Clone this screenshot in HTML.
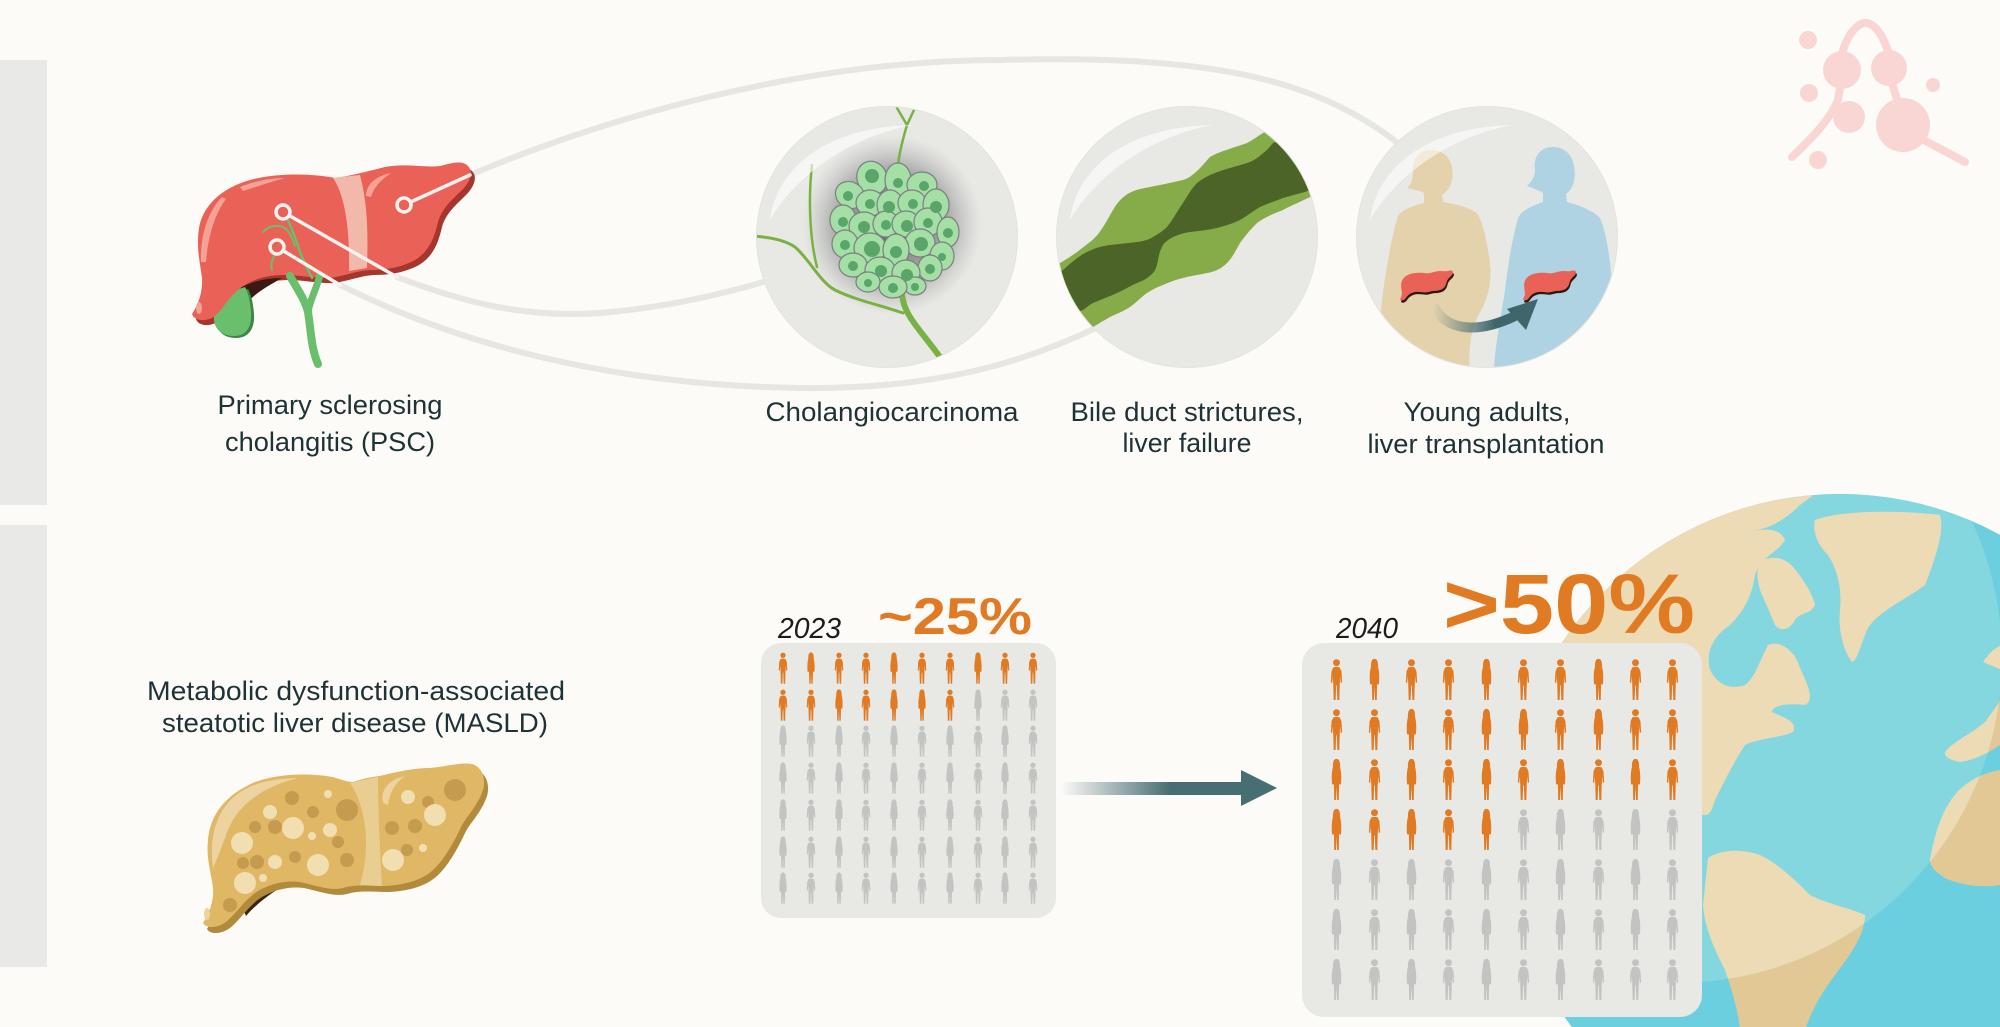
<!DOCTYPE html>
<html>
<head>
<meta charset="utf-8">
<style>
html,body{margin:0;padding:0;background:#fcfbf8;}
svg{display:block;}
.lbl{font-family:"Liberation Sans",Arial,sans-serif;font-size:27px;fill:#1f3236;}
</style>
</head>
<body>
<svg width="2000" height="1027" viewBox="0 0 2000 1027" xmlns="http://www.w3.org/2000/svg" xmlns:xlink="http://www.w3.org/1999/xlink">
<defs>
  <path id="lvp" d="M 192 314 C 198 305 203 292 202 278 C 200 262 196 248 199 228 C 203 205 222 188 250 180 C 280 172 315 174 335 178 C 350 176 365 172 385 167 C 405 163 425 168 440 166 C 452 163 462 160 468 166 C 474 172 470 182 462 190 C 452 200 442 208 438 222 C 434 240 428 252 415 260 C 400 268 385 270 370 270 C 355 271 345 276 330 278 C 318 279 300 275 285 275 C 265 275 250 280 238 290 C 226 300 222 312 212 318 C 202 322 194 320 192 314 Z"/>
  <path id="mlp" d="M 203 923 C 210 912 214 900 213 888 C 211 872 206 858 208 840 C 210 815 225 795 255 782 C 280 773 310 773 333 777 C 342 780 348 782 353 782 C 362 779 370 777 380 776 C 395 772 415 768 430 768 C 445 767 460 762 472 764 C 483 767 486 780 483 790 C 478 805 468 815 462 825 C 455 840 447 855 437 866 C 425 880 405 885 385 886 C 370 886 355 884 343 888 C 330 891 318 886 300 882 C 285 880 270 884 258 891 C 245 899 236 914 226 922 C 218 928 206 929 203 923 Z"/>
  <symbol id="m" viewBox="0 0 12 40">
    <circle cx="6" cy="4" r="3.2"/>
    <path d="M 3 8.5 Q 6 7.2 9 8.5 L 10.6 12 L 11.2 22 L 10 23 L 9.4 16.5 L 9 24 L 8.6 38.5 L 6.8 38.5 L 6.3 25 L 5.7 25 L 5.2 38.5 L 3.4 38.5 L 3 24 L 2.6 16.5 L 2 23 L 0.8 22 L 1.4 12 Z"/>
  </symbol>
  <symbol id="w" viewBox="0 0 12 40">
    <path d="M 6 0.5 C 3.2 0.5 2.6 4 2.7 8 C 1.6 12 1.3 18 1.9 24 L 3.6 24 L 3.9 38.5 L 5.5 38.5 L 6 26 L 6.5 38.5 L 8.1 38.5 L 8.4 24 L 10.1 24 C 10.7 18 10.4 12 9.3 8 C 9.4 4 8.8 0.5 6 0.5 Z"/>
  </symbol>
  <clipPath id="c1"><circle cx="887" cy="237" r="130"/></clipPath>
  <clipPath id="c2"><circle cx="1187" cy="237" r="130"/></clipPath>
  <clipPath id="c3"><circle cx="1487" cy="237" r="130"/></clipPath>
  <clipPath id="gclip"><circle cx="1840" cy="828" r="334"/></clipPath>
  <clipPath id="hclip"><circle cx="1677" cy="658" r="325"/></clipPath>
  <radialGradient id="shd" cx="892" cy="225" r="90" gradientUnits="userSpaceOnUse">
    <stop offset="0" stop-color="#3c3c3c" stop-opacity="0.85"/>
    <stop offset="0.65" stop-color="#6a6a6a" stop-opacity="0.45"/>
    <stop offset="1" stop-color="#9a9a9a" stop-opacity="0"/>
  </radialGradient>
  <linearGradient id="arr" x1="1061" y1="0" x2="1170" y2="0" gradientUnits="userSpaceOnUse">
    <stop offset="0" stop-color="#476e73" stop-opacity="0"/>
    <stop offset="1" stop-color="#476e73" stop-opacity="1"/>
  </linearGradient>
  <linearGradient id="arr2" x1="1433" y1="0" x2="1495" y2="0" gradientUnits="userSpaceOnUse">
    <stop offset="0" stop-color="#3f666b" stop-opacity="0"/>
    <stop offset="1" stop-color="#3f666b" stop-opacity="1"/>
  </linearGradient>
  <g id="cont">
    <path d="M 1560 570 C 1600 555 1650 535 1700 520 C 1720 515 1740 525 1750 532 C 1765 528 1780 528 1785 540 C 1778 552 1760 558 1755 575 C 1752 595 1745 610 1730 625 C 1715 635 1705 650 1710 670 C 1718 685 1730 690 1745 685 C 1755 678 1760 660 1768 645 C 1780 640 1795 650 1800 668 C 1808 685 1815 700 1805 705 C 1790 703 1772 705 1772 712 C 1785 718 1798 722 1793 732 C 1780 738 1760 738 1745 745 C 1735 760 1725 780 1715 800 C 1712 810 1710 815 1705 815 L 1560 815 Z"/>
    <path d="M 1700 523 C 1730 505 1770 497 1815 494 L 1800 505 C 1790 515 1780 522 1768 527 C 1750 532 1730 540 1712 540 Z"/>
    <path d="M 1760 562 C 1772 554 1786 558 1794 568 C 1802 578 1812 592 1815 605 C 1810 615 1800 612 1795 620 C 1790 630 1780 632 1775 625 C 1770 612 1764 600 1760 590 C 1757 580 1756 568 1760 562 Z"/>
    <path d="M 1815 520 C 1840 510 1900 510 1940 515 C 1945 530 1935 560 1925 585 C 1905 600 1880 610 1868 628 C 1860 645 1858 660 1852 662 C 1843 650 1838 630 1840 610 C 1842 590 1838 570 1828 555 C 1818 545 1812 532 1815 520 Z"/>
    <path d="M 1708 858 C 1720 850 1740 848 1760 855 C 1780 865 1795 880 1810 895 C 1830 905 1850 908 1865 915 C 1865 935 1850 955 1835 975 C 1820 995 1812 1010 1805 1030 L 1740 1030 C 1738 1010 1732 990 1725 970 C 1715 950 1705 930 1703 905 Z"/>
    <path d="M 1930 860 C 1935 830 1945 800 1965 785 C 1978 775 1990 772 2000 770 L 2000 885 C 1980 888 1960 885 1945 878 C 1935 872 1930 866 1930 860 Z"/>
    <path d="M 1945 752 C 1955 740 1970 735 1985 722 C 1992 712 1998 705 2000 700 L 2000 745 C 1990 752 1975 760 1960 762 C 1950 760 1944 757 1945 752 Z"/>
    <path d="M 1983 662 C 1990 652 1995 648 2002 645 L 2002 670 Z"/>
  </g>
</defs>

<!-- background -->
<rect x="0" y="0" width="2000" height="1027" fill="#fcfbf8"/>
<rect x="0" y="60" width="47" height="445" fill="#e9eae7"/>
<rect x="0" y="525" width="47" height="442" fill="#e9eae7"/>

<!-- connectors -->
<g fill="none" stroke="#e6e6e2" stroke-width="6" stroke-linecap="round">
  <path d="M 470 175 C 600 120, 800 60, 1000 60 C 1200 55, 1310 75, 1398 143"/>
  <path d="M 397 277 C 470 305, 530 318, 600 313 C 660 308, 720 295, 770 280"/>
  <path d="M 340 285 C 450 340, 600 385, 800 388 C 950 390, 1040 355, 1100 326"/>
</g>

<!-- PSC liver -->
<use href="#lvp" fill="#a5362e" transform="translate(4,5)"/>
<path d="M 228 296 C 242 284 262 278 282 278 C 268 286 255 293 246 304 Z" fill="#3a1a12"/>
<path d="M 216 318 C 215 330 223 338 236 338 C 249 338 255 328 254 314 C 253 302 251 294 248 289 L 232 294 Z" fill="#3e8645"/>
<path d="M 214 316 C 213 328 221 336 234 336 C 247 336 252 326 251 312 C 250 300 248 292 245 287 L 230 292 C 222 300 216 308 214 316 Z" fill="#6abf6d"/>
<use href="#lvp" fill="#ea6157"/>
<path d="M 333 178 C 345 195 350 230 349 271 L 367 268 C 368 235 368 205 360 175 C 350 176 341 177 333 178 Z" fill="#f2b8a9"/>
<path d="M 201 262 C 200 236 208 211 222 197 L 226 199 C 214 215 208 238 206 262 Z" fill="#f4a196"/>
<path d="M 240 187 C 255 181 270 178 285 178 C 270 182 256 187 243 191 Z" fill="#f4a196"/>
<path d="M 366 196 C 366 185 375 176 391 173 C 381 180 374 187 371 197 Z" fill="#f4a196"/>
<ellipse cx="199" cy="308" rx="3" ry="6" fill="#f4a196"/>
<g fill="none" stroke="#6abf6d" stroke-linecap="round">
  <path d="M 290 276 C 298 290 305 300 308 312 C 311 330 311 348 318 364" stroke-width="8"/>
  <path d="M 320 275 C 316 290 310 300 308 312" stroke-width="7"/>
  <path d="M 285 214 C 292 228 296 240 300 252 C 304 262 308 270 312 278" stroke-width="2.5"/>
  <path d="M 263 232 C 268 226 278 224 285 228 C 290 232 292 238 295 246" stroke-width="2"/>
  <path d="M 280 250 C 273 256 270 262 272 270" stroke-width="2"/>
</g>
<g stroke="#f2f2ef" fill="none" stroke-width="3.5" stroke-linecap="round">
  <path d="M 404 205 L 470 175"/>
  <path d="M 283 212 L 397 277"/>
  <path d="M 277 247 L 340 285"/>
</g>
<g fill="#ea6157" stroke="#f2f2ef" stroke-width="3.5">
  <circle cx="404" cy="205" r="7"/>
  <circle cx="283" cy="212" r="7"/>
  <circle cx="277" cy="247" r="7"/>
</g>

<!-- Circle 1: Cholangiocarcinoma -->
<circle cx="887" cy="237" r="131" fill="#e3e3df"/>
<circle cx="887" cy="237" r="130" fill="#e8e8e5"/>
<g clip-path="url(#c1)">
  <circle cx="892" cy="225" r="92" fill="url(#shd)"/>
  <g fill="none" stroke="#79b143" stroke-linecap="round">
    <path d="M 942 360 C 925 335 906 318 903 300 L 900 285" stroke-width="6"/>
    <path d="M 903 313 C 880 305 855 300 835 290 C 820 282 810 260 795 247 C 785 240 770 237 752 236" stroke-width="3"/>
    <path d="M 817 267 C 810 240 808 200 812 165" stroke-width="2.5"/>
    <path d="M 898 165 C 900 148 905 132 907 125 L 897 108 M 907 125 L 914 110" stroke-width="2.5"/>
  </g>
  <g fill="#a4dfa6" stroke="#7d7d82" stroke-width="1.2">
    <ellipse cx="872" cy="178" rx="15" ry="17" transform="rotate(-20 872 178)"/>
    <ellipse cx="898" cy="180" rx="13" ry="17"/>
    <ellipse cx="922" cy="185" rx="15" ry="13"/>
    <ellipse cx="850" cy="195" rx="15" ry="13" transform="rotate(30 850 195)"/>
    <ellipse cx="870" cy="203" rx="14" ry="13"/>
    <ellipse cx="890" cy="205" rx="13" ry="15"/>
    <ellipse cx="912" cy="203" rx="14" ry="13"/>
    <ellipse cx="936" cy="205" rx="13" ry="16"/>
    <ellipse cx="843" cy="220" rx="13" ry="15"/>
    <ellipse cx="864" cy="226" rx="15" ry="14"/>
    <ellipse cx="886" cy="224" rx="13" ry="13"/>
    <ellipse cx="906" cy="224" rx="14" ry="13"/>
    <ellipse cx="928" cy="222" rx="14" ry="14"/>
    <ellipse cx="948" cy="232" rx="11" ry="15"/>
    <ellipse cx="845" cy="244" rx="13" ry="14"/>
    <ellipse cx="920" cy="243" rx="15" ry="14"/>
    <ellipse cx="942" cy="256" rx="12" ry="14"/>
    <ellipse cx="870" cy="248" rx="16" ry="15"/>
    <ellipse cx="896" cy="250" rx="13" ry="16"/>
    <ellipse cx="853" cy="265" rx="14" ry="12"/>
    <ellipse cx="930" cy="268" rx="12" ry="13"/>
    <ellipse cx="880" cy="270" rx="15" ry="13"/>
    <ellipse cx="906" cy="273" rx="14" ry="13"/>
    <ellipse cx="868" cy="282" rx="12" ry="10"/>
    <ellipse cx="915" cy="286" rx="11" ry="9"/>
    <ellipse cx="893" cy="287" rx="14" ry="11"/>
  </g>
  <g fill="#5aa56a">
    <circle cx="872" cy="176" r="7"/><circle cx="898" cy="183" r="5"/><circle cx="924" cy="186" r="5"/>
    <circle cx="848" cy="196" r="5"/><circle cx="870" cy="204" r="5"/><circle cx="889" cy="207" r="6"/>
    <circle cx="913" cy="204" r="5"/><circle cx="936" cy="207" r="6"/><circle cx="843" cy="222" r="5"/>
    <circle cx="864" cy="227" r="6"/><circle cx="886" cy="225" r="5"/><circle cx="907" cy="226" r="6"/>
    <circle cx="928" cy="223" r="5"/><circle cx="948" cy="233" r="5"/><circle cx="845" cy="245" r="5"/>
    <circle cx="921" cy="244" r="7"/><circle cx="942" cy="257" r="4"/><circle cx="872" cy="249" r="8"/>
    <circle cx="896" cy="252" r="6"/><circle cx="853" cy="266" r="5"/><circle cx="930" cy="269" r="5"/>
    <circle cx="881" cy="271" r="6"/><circle cx="907" cy="275" r="6"/><circle cx="868" cy="283" r="4"/>
    <circle cx="915" cy="287" r="4"/><circle cx="893" cy="288" r="5"/>
  </g>
</g>
<path d="M 770 220 C 777 167 827 127 913 125 C 847 137 795 177 770 220 Z" fill="#ffffff" fill-opacity="0.6"/>

<!-- Circle 2: Bile duct -->
<circle cx="1187" cy="237" r="131" fill="#e3e3df"/>
<circle cx="1187" cy="237" r="130" fill="#e8e8e5"/>
<g clip-path="url(#c2)">
  <path d="M 1040 275 L 1060 263 C 1072 256 1080 250 1090 242 C 1100 235 1107 220 1113 210 C 1120 198 1128 192 1140 189 C 1155 186 1170 183 1183 180 C 1193 177 1200 168 1210 157 C 1218 152 1230 149 1247 143 C 1253 140 1258 136 1263 133 L 1340 95 L 1340 185 L 1308 198 C 1298 203 1290 206 1283 210 C 1270 215 1262 219 1257 223 C 1250 230 1245 236 1240 243 C 1235 252 1232 258 1227 263 C 1220 270 1213 272 1207 273 C 1198 275 1190 276 1183 278 C 1175 280 1170 282 1163 285 C 1155 288 1152 290 1147 293 C 1140 298 1136 303 1130 307 C 1122 312 1116 314 1110 317 C 1103 321 1098 324 1093 327 L 1040 350 Z" fill="#86ac49"/>
  <path d="M 1040 282 L 1063 270 C 1072 262 1080 255 1087 252 C 1095 248 1102 246 1110 245 C 1120 244 1128 243 1137 242 C 1145 241 1150 239 1153 237 C 1160 233 1164 230 1167 227 C 1174 218 1178 210 1183 203 C 1188 195 1192 188 1197 183 C 1202 179 1206 177 1210 175 C 1217 172 1223 170 1230 168 C 1237 166 1244 164 1250 162 C 1257 159 1262 154 1267 150 L 1273 143 L 1340 120 L 1340 178 L 1305 192 C 1297 194 1290 196 1283 198 C 1275 201 1267 204 1260 207 C 1253 211 1247 216 1240 220 C 1232 224 1224 226 1217 228 C 1208 230 1199 231 1190 232 C 1183 233 1178 235 1173 237 C 1168 240 1165 242 1163 245 C 1160 250 1159 255 1158 260 C 1157 265 1156 270 1153 273 C 1148 278 1143 281 1137 283 C 1130 286 1124 290 1117 293 C 1108 297 1100 300 1093 303 C 1089 305 1086 308 1083 310 L 1040 325 Z" fill="#4c6428"/>
</g>
<path d="M 1070 220 C 1077 167 1127 127 1213 125 C 1147 137 1095 177 1070 220 Z" fill="#ffffff" fill-opacity="0.6"/>

<!-- Circle 3: transplantation -->
<circle cx="1487" cy="237" r="131" fill="#e3e3df"/>
<circle cx="1487" cy="237" r="130" fill="#e8e8e5"/>
<g clip-path="url(#c3)">
  <path d="M 1430 150 C 1418 150 1412 160 1413 172 C 1413 180 1410 186 1407 188 C 1413 190 1420 190 1424 193 L 1424 203 C 1412 206 1402 210 1398 216 C 1392 235 1388 260 1384 285 C 1381 305 1379 330 1378 360 L 1378 380 L 1470 380 C 1468 350 1470 330 1480 312 C 1488 300 1492 280 1490 265 C 1488 245 1484 225 1477 213 C 1468 207 1455 204 1443 202 L 1442 195 C 1450 190 1454 180 1452 168 C 1450 156 1442 150 1430 150 Z" fill="#e3d2ab"/>
  <path d="M 1553 147 C 1540 147 1533 157 1535 170 C 1535 178 1530 183 1527 186 C 1533 188 1538 190 1543 193 L 1543 202 C 1532 206 1522 210 1518 218 C 1512 240 1508 265 1505 290 C 1502 310 1498 330 1495 355 L 1493 380 L 1620 380 C 1614 340 1613 310 1612 285 C 1610 255 1606 232 1600 218 C 1592 210 1578 205 1567 202 L 1566 194 C 1574 188 1576 178 1574 166 C 1572 154 1564 147 1553 147 Z" fill="#afd3e2"/>
  <g transform="translate(1400,270) scale(0.19) translate(-192,-160)">
    <use href="#lvp" fill="#2b1a14" transform="translate(5,12)"/>
    <use href="#lvp" fill="#ea6157"/>
  </g>
  <g transform="translate(1523,270) scale(0.19) translate(-192,-160)">
    <use href="#lvp" fill="#2b1a14" transform="translate(5,12)"/>
    <use href="#lvp" fill="#ea6157"/>
  </g>
  <path d="M 1433 305 C 1445 330 1475 335 1515 316" fill="none" stroke="url(#arr2)" stroke-width="10"/>
  <polygon points="1538,299 1507,309 1526,330" fill="#3f666b"/>
</g>
<path d="M 1370 220 C 1377 167 1427 127 1513 125 C 1447 137 1395 177 1370 220 Z" fill="#ffffff" fill-opacity="0.55"/>

<!-- molecule icon -->
<g fill="#f9d6d3" stroke="#f9d6d3">
  <path d="M 1840 64 C 1845 32 1860 22 1866 23 C 1878 24 1888 45 1890 62" fill="none" stroke-width="8" stroke-linecap="round"/>
  <path d="M 1792 157 C 1810 140 1830 120 1838 100 L 1842 75" fill="none" stroke-width="8" stroke-linecap="round"/>
  <path d="M 1891 80 L 1901 112" fill="none" stroke-width="8" stroke-linecap="round"/>
  <path d="M 1920 138 L 1965 162" fill="none" stroke-width="8" stroke-linecap="round"/>
  <g stroke="none">
    <circle cx="1808" cy="40" r="9"/>
    <circle cx="1842" cy="70" r="19"/>
    <circle cx="1889" cy="68" r="18"/>
    <circle cx="1809" cy="93" r="9"/>
    <circle cx="1849" cy="117" r="16"/>
    <circle cx="1903" cy="125" r="27"/>
    <circle cx="1933" cy="85" r="7"/>
    <circle cx="1818" cy="160" r="9"/>
  </g>
</g>

<!-- labels top -->
<text class="lbl" x="330" y="414" text-anchor="middle" textLength="225" lengthAdjust="spacingAndGlyphs">Primary sclerosing</text>
<text class="lbl" x="330" y="451" text-anchor="middle" textLength="210" lengthAdjust="spacingAndGlyphs">cholangitis (PSC)</text>
<text class="lbl" x="892" y="421" text-anchor="middle" textLength="253" lengthAdjust="spacingAndGlyphs">Cholangiocarcinoma</text>
<text class="lbl" x="1187" y="421" text-anchor="middle" textLength="233" lengthAdjust="spacingAndGlyphs">Bile duct strictures,</text>
<text class="lbl" x="1187" y="452" text-anchor="middle" textLength="129" lengthAdjust="spacingAndGlyphs">liver failure</text>
<text class="lbl" x="1487" y="421" text-anchor="middle" textLength="167" lengthAdjust="spacingAndGlyphs">Young adults,</text>
<text class="lbl" x="1486" y="453" text-anchor="middle" textLength="237" lengthAdjust="spacingAndGlyphs">liver transplantation</text>

<!-- MASLD -->
<text class="lbl" x="356" y="700" text-anchor="middle" textLength="418" lengthAdjust="spacingAndGlyphs">Metabolic dysfunction-associated</text>
<text class="lbl" x="355" y="732" text-anchor="middle" textLength="386" lengthAdjust="spacingAndGlyphs">steatotic liver disease (MASLD)</text>

<path d="M 240 902 C 252 890 268 884 288 883 C 274 891 258 902 246 916 Z" fill="#3a2412"/>
<use href="#mlp" fill="#b28a3c" transform="translate(4,6)"/>
<use href="#mlp" fill="#dfb765"/>
<path d="M 350 783 C 365 805 372 845 360 885 L 382 886 C 380 850 378 810 378 777 C 368 779 358 781 350 783 Z" fill="#ecd5a2" fill-opacity="0.75"/>
<path d="M 213 868 C 208 830 220 795 260 783 C 275 779 290 778 298 778 C 270 785 240 800 228 830 C 222 845 218 858 213 868 Z" fill="#ecd39f"/>
<path d="M 383 803 C 380 790 388 780 405 776 C 395 783 390 792 388 805 Z" fill="#ecd39f"/>
<ellipse cx="207" cy="914" rx="3" ry="6" fill="#ecd39f"/>
<g fill="#c49b4f">
  <circle cx="292" cy="798" r="7"/><circle cx="347" cy="810" r="11"/><circle cx="313" cy="812" r="6"/>
  <circle cx="255" cy="827" r="6"/><circle cx="275" cy="827" r="7"/><circle cx="338" cy="842" r="6"/>
  <circle cx="295" cy="857" r="6"/><circle cx="257" cy="862" r="7"/><circle cx="243" cy="863" r="6"/>
  <circle cx="347" cy="860" r="7"/><circle cx="230" cy="905" r="7"/><circle cx="455" cy="790" r="11"/>
  <circle cx="428" cy="802" r="6"/><circle cx="392" cy="828" r="7"/><circle cx="415" cy="826" r="7"/>
  <circle cx="407" cy="850" r="6"/>
</g>
<g fill="#f1dfb2">
  <circle cx="270" cy="812" r="7"/><circle cx="293" cy="828" r="11"/><circle cx="330" cy="830" r="7"/>
  <circle cx="312" cy="836" r="4"/><circle cx="242" cy="843" r="11"/><circle cx="275" cy="862" r="7"/>
  <circle cx="318" cy="865" r="11"/><circle cx="245" cy="883" r="11"/><circle cx="263" cy="878" r="4"/>
  <circle cx="328" cy="794" r="4"/><circle cx="408" cy="797" r="7"/><circle cx="435" cy="815" r="11"/>
  <circle cx="423" cy="848" r="4"/><circle cx="393" cy="860" r="11"/>
</g>

<!-- Globe -->
<g clip-path="url(#gclip)">
  <rect x="1490" y="480" width="520" height="560" fill="#6ccfdf"/>
  <use href="#cont" fill="#e2c895"/>
  <g clip-path="url(#hclip)">
    <rect x="1490" y="480" width="520" height="560" fill="#84d7df"/>
    <use href="#cont" fill="#eddbb5"/>
  </g>
</g>

<!-- 2023 box -->
<text x="778" y="638" font-family="Liberation Sans, Arial, sans-serif" font-style="italic" font-size="29" fill="#1c1c1c" textLength="63" lengthAdjust="spacingAndGlyphs">2023</text>
<text x="878" y="634" font-family="Liberation Sans, Arial, sans-serif" font-weight="bold" font-size="52" fill="#e07b24" textLength="154" lengthAdjust="spacingAndGlyphs">~25%</text>
<rect x="761" y="643" width="295" height="275" rx="20" fill="#e8e8e4"/>

<g fill="#e07b24">
  <use href="#m" x="778" y="652" width="10" height="33"/><use href="#w" x="806" y="652" width="10" height="33"/><use href="#m" x="834" y="652" width="10" height="33"/><use href="#m" x="861" y="652" width="10" height="33"/><use href="#w" x="889" y="652" width="10" height="33"/><use href="#m" x="917" y="652" width="10" height="33"/><use href="#m" x="945" y="652" width="10" height="33"/><use href="#w" x="973" y="652" width="10" height="33"/><use href="#m" x="1000" y="652" width="10" height="33"/><use href="#m" x="1028" y="652" width="10" height="33"/>
  <use href="#m" x="778" y="689" width="10" height="33"/><use href="#m" x="806" y="689" width="10" height="33"/><use href="#w" x="834" y="689" width="10" height="33"/><use href="#m" x="861" y="689" width="10" height="33"/><use href="#w" x="889" y="689" width="10" height="33"/><use href="#w" x="917" y="689" width="10" height="33"/><use href="#m" x="945" y="689" width="10" height="33"/>
</g>
<g fill="#c3c3c1">
  <use href="#w" x="973" y="689" width="10" height="33"/><use href="#m" x="1000" y="689" width="10" height="33"/><use href="#m" x="1028" y="689" width="10" height="33"/>
  <use href="#w" x="778" y="725" width="10" height="33"/><use href="#m" x="806" y="725" width="10" height="33"/><use href="#w" x="834" y="725" width="10" height="33"/><use href="#m" x="861" y="725" width="10" height="33"/><use href="#w" x="889" y="725" width="10" height="33"/><use href="#m" x="917" y="725" width="10" height="33"/><use href="#w" x="945" y="725" width="10" height="33"/><use href="#m" x="973" y="725" width="10" height="33"/><use href="#w" x="1000" y="725" width="10" height="33"/><use href="#m" x="1028" y="725" width="10" height="33"/>
  <use href="#w" x="778" y="762" width="10" height="33"/><use href="#m" x="806" y="762" width="10" height="33"/><use href="#w" x="834" y="762" width="10" height="33"/><use href="#m" x="861" y="762" width="10" height="33"/><use href="#w" x="889" y="762" width="10" height="33"/><use href="#m" x="917" y="762" width="10" height="33"/><use href="#w" x="945" y="762" width="10" height="33"/><use href="#m" x="973" y="762" width="10" height="33"/><use href="#w" x="1000" y="762" width="10" height="33"/><use href="#m" x="1028" y="762" width="10" height="33"/>
  <use href="#w" x="778" y="799" width="10" height="33"/><use href="#m" x="806" y="799" width="10" height="33"/><use href="#w" x="834" y="799" width="10" height="33"/><use href="#m" x="861" y="799" width="10" height="33"/><use href="#w" x="889" y="799" width="10" height="33"/><use href="#m" x="917" y="799" width="10" height="33"/><use href="#w" x="945" y="799" width="10" height="33"/><use href="#m" x="973" y="799" width="10" height="33"/><use href="#w" x="1000" y="799" width="10" height="33"/><use href="#m" x="1028" y="799" width="10" height="33"/>
  <use href="#w" x="778" y="836" width="10" height="33"/><use href="#m" x="806" y="836" width="10" height="33"/><use href="#w" x="834" y="836" width="10" height="33"/><use href="#m" x="861" y="836" width="10" height="33"/><use href="#w" x="889" y="836" width="10" height="33"/><use href="#m" x="917" y="836" width="10" height="33"/><use href="#w" x="945" y="836" width="10" height="33"/><use href="#m" x="973" y="836" width="10" height="33"/><use href="#w" x="1000" y="836" width="10" height="33"/><use href="#m" x="1028" y="836" width="10" height="33"/>
  <use href="#w" x="778" y="872" width="10" height="33"/><use href="#m" x="806" y="872" width="10" height="33"/><use href="#w" x="834" y="872" width="10" height="33"/><use href="#m" x="861" y="872" width="10" height="33"/><use href="#w" x="889" y="872" width="10" height="33"/><use href="#m" x="917" y="872" width="10" height="33"/><use href="#w" x="945" y="872" width="10" height="33"/><use href="#m" x="973" y="872" width="10" height="33"/><use href="#w" x="1000" y="872" width="10" height="33"/><use href="#m" x="1028" y="872" width="10" height="33"/>
</g>

<!-- arrow -->
<rect x="1061" y="782" width="182" height="13" fill="url(#arr)"/>
<polygon points="1241,770 1277,788 1241,806" fill="#476e73"/>

<!-- 2040 box -->
<rect x="1302" y="643" width="400" height="374" rx="22" fill="#e8e8e4"/>
<g fill="#e07b24">
  <use href="#m" x="1330" y="658" width="13" height="44"/><use href="#w" x="1368" y="658" width="13" height="44"/><use href="#m" x="1405" y="658" width="13" height="44"/><use href="#m" x="1442" y="658" width="13" height="44"/><use href="#w" x="1480" y="658" width="13" height="44"/><use href="#m" x="1517" y="658" width="13" height="44"/><use href="#m" x="1554" y="658" width="13" height="44"/><use href="#w" x="1592" y="658" width="13" height="44"/><use href="#m" x="1629" y="658" width="13" height="44"/><use href="#m" x="1666" y="658" width="13" height="44"/>
  <use href="#m" x="1330" y="708" width="13" height="44"/><use href="#m" x="1368" y="708" width="13" height="44"/><use href="#w" x="1405" y="708" width="13" height="44"/><use href="#m" x="1442" y="708" width="13" height="44"/><use href="#w" x="1480" y="708" width="13" height="44"/><use href="#w" x="1517" y="708" width="13" height="44"/><use href="#m" x="1554" y="708" width="13" height="44"/><use href="#w" x="1592" y="708" width="13" height="44"/><use href="#m" x="1629" y="708" width="13" height="44"/><use href="#m" x="1666" y="708" width="13" height="44"/>
  <use href="#w" x="1330" y="758" width="13" height="44"/><use href="#m" x="1368" y="758" width="13" height="44"/><use href="#w" x="1405" y="758" width="13" height="44"/><use href="#m" x="1442" y="758" width="13" height="44"/><use href="#w" x="1480" y="758" width="13" height="44"/><use href="#m" x="1517" y="758" width="13" height="44"/><use href="#w" x="1554" y="758" width="13" height="44"/><use href="#m" x="1592" y="758" width="13" height="44"/><use href="#w" x="1629" y="758" width="13" height="44"/><use href="#m" x="1666" y="758" width="13" height="44"/>
  <use href="#w" x="1330" y="808" width="13" height="44"/><use href="#m" x="1368" y="808" width="13" height="44"/><use href="#w" x="1405" y="808" width="13" height="44"/><use href="#m" x="1442" y="808" width="13" height="44"/><use href="#w" x="1480" y="808" width="13" height="44"/>
</g>
<g fill="#c3c3c1">
  <use href="#m" x="1517" y="808" width="13" height="44"/><use href="#w" x="1554" y="808" width="13" height="44"/><use href="#m" x="1592" y="808" width="13" height="44"/><use href="#w" x="1629" y="808" width="13" height="44"/><use href="#m" x="1666" y="808" width="13" height="44"/>
  <use href="#w" x="1330" y="858" width="13" height="44"/><use href="#m" x="1368" y="858" width="13" height="44"/><use href="#w" x="1405" y="858" width="13" height="44"/><use href="#m" x="1442" y="858" width="13" height="44"/><use href="#w" x="1480" y="858" width="13" height="44"/><use href="#m" x="1517" y="858" width="13" height="44"/><use href="#w" x="1554" y="858" width="13" height="44"/><use href="#m" x="1592" y="858" width="13" height="44"/><use href="#w" x="1629" y="858" width="13" height="44"/><use href="#m" x="1666" y="858" width="13" height="44"/>
  <use href="#w" x="1330" y="908" width="13" height="44"/><use href="#m" x="1368" y="908" width="13" height="44"/><use href="#w" x="1405" y="908" width="13" height="44"/><use href="#m" x="1442" y="908" width="13" height="44"/><use href="#w" x="1480" y="908" width="13" height="44"/><use href="#m" x="1517" y="908" width="13" height="44"/><use href="#w" x="1554" y="908" width="13" height="44"/><use href="#m" x="1592" y="908" width="13" height="44"/><use href="#w" x="1629" y="908" width="13" height="44"/><use href="#m" x="1666" y="908" width="13" height="44"/>
  <use href="#w" x="1330" y="958" width="13" height="44"/><use href="#m" x="1368" y="958" width="13" height="44"/><use href="#w" x="1405" y="958" width="13" height="44"/><use href="#m" x="1442" y="958" width="13" height="44"/><use href="#w" x="1480" y="958" width="13" height="44"/><use href="#m" x="1517" y="958" width="13" height="44"/><use href="#w" x="1554" y="958" width="13" height="44"/><use href="#m" x="1592" y="958" width="13" height="44"/><use href="#m" x="1629" y="958" width="13" height="44"/><use href="#m" x="1666" y="958" width="13" height="44"/>
</g>
<text x="1336" y="638" font-family="Liberation Sans, Arial, sans-serif" font-style="italic" font-size="29" fill="#1c1c1c" textLength="62" lengthAdjust="spacingAndGlyphs">2040</text>
<text x="1443" y="633" font-family="Liberation Sans, Arial, sans-serif" font-weight="bold" font-size="84" fill="#e07b24" textLength="252" lengthAdjust="spacingAndGlyphs">&gt;50%</text>
</svg>
</body>
</html>
